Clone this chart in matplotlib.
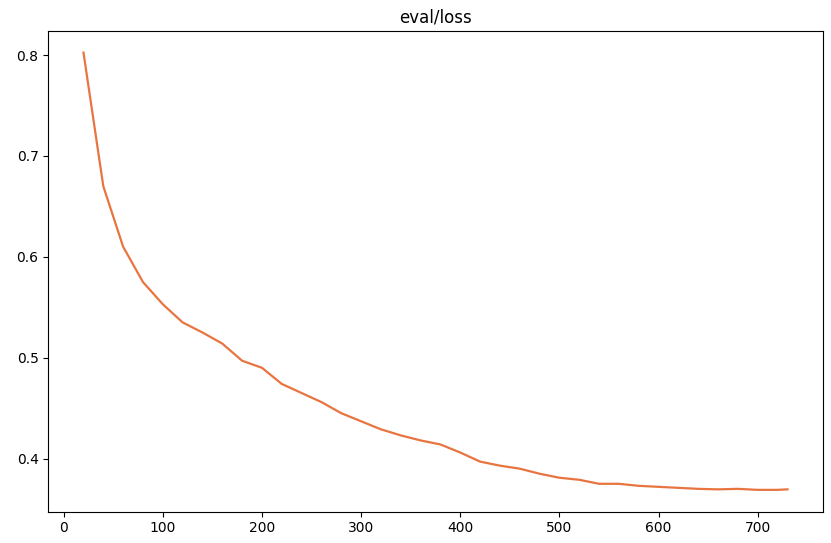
import matplotlib
matplotlib.use("Agg")
import matplotlib.pyplot as plt

steps = [20, 40, 60, 80, 100, 120, 140, 160, 180, 200, 220, 240, 260, 280, 300,
         320, 340, 360, 380, 400, 420, 440, 460, 480, 500, 520, 540, 560, 580,
         600, 620, 640, 660, 680, 700, 720, 730]
loss = [0.8025, 0.670, 0.610, 0.575, 0.553, 0.535, 0.525, 0.514, 0.497, 0.490,
        0.474, 0.465, 0.456, 0.445, 0.437, 0.429, 0.423, 0.418, 0.414, 0.406,
        0.397, 0.393, 0.390, 0.385, 0.381, 0.379, 0.375, 0.375, 0.373, 0.372,
        0.371, 0.370, 0.3695, 0.370, 0.369, 0.369, 0.3695]

fig = plt.figure(figsize=(8.31, 5.43), dpi=100)
ax = fig.add_axes([0.0581, 0.0576, 0.9319, 0.8858])
ax.plot(steps, loss, color="#e8743f", linewidth=1.6)
ax.set_title("eval/loss", fontsize=12)
ax.set_xticks([0, 100, 200, 300, 400, 500, 600, 700])
ax.set_yticks([0.4, 0.5, 0.6, 0.7, 0.8])
ax.tick_params(labelsize=10)
fig.savefig("out.png", dpi=100)
